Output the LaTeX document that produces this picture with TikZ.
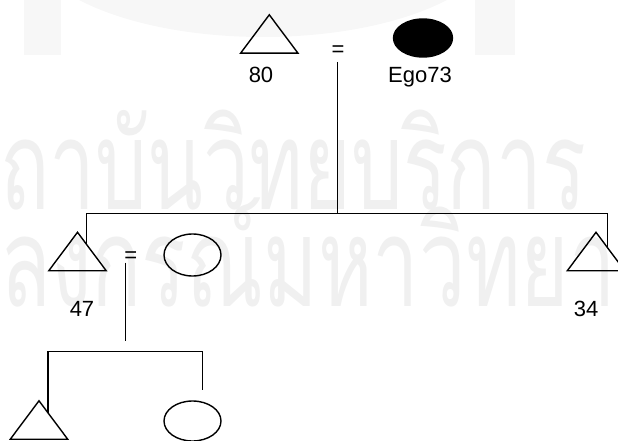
\documentclass[tikz,border=0pt]{standalone}
\usepackage{fontspec}
\setmainfont{Liberation Sans}
\newfontfamily\thaifont[Script=Thai]{Loma}
\usetikzlibrary{calc,shapes.geometric}
\colorlet{wm}{black!6!white}
\colorlet{wmfaint}{black!3!white}
\begin{document}
\begin{tikzpicture}[x=1pt,y=-1pt,
  lbl/.style={inner sep=0pt, font=\fontsize{22}{22}\selectfont},
  male/.style={inner sep=0pt, minimum width=57pt, minimum height=38pt},
  female/.style={draw, ellipse, inner sep=0pt, line width=1.4pt, minimum width=57pt, minimum height=42pt},
  ln/.style={line width=1.5pt},
  tri/.style={line width=1.4pt, line join=miter},
  wmtext/.style={anchor=base west, inner sep=0pt, text=wm}
]
\useasboundingbox (0,0) rectangle (618,441);
\begin{scope}
\clip (0,0) rectangle (618,441);
% faint watermark
\fill[wmfaint] (263,-60) ellipse (234pt and 97pt);
\fill[wmfaint] (24,0) rectangle (61,55);
\fill[wmfaint] (475,0) rectangle (515,55);
\node[wmtext] (wm1) at (0,209) {\resizebox{586pt}{\height}{\fontsize{124}{124}\selectfont\thaifont ถาบันวิทยบริการ}};
\node[wmtext] (wm2) at (0,306) {\resizebox{616pt}{\height}{\fontsize{124}{124}\selectfont\thaifont ลงกรณ์มหาวิทยา}};

% generation 1
\node[male] (p80) at (269.3,34) {};
\draw[tri] (p80.south west) -- (p80.north) -- (p80.south east) -- cycle;
\node[lbl, anchor=base] (t80) at (261,82.5) {80};
\node[lbl] (eq1) at (338,51) {=};
\node[female, fill=black, minimum width=59pt, minimum height=38pt] (ego) at (423,38) {};
\node[lbl, anchor=base] (tego) at (420,82.5) {Ego73};

% generation 2
\node[male] (p47) at (77.5,251.5) {};
\draw[tri] (p47.south west) -- (p47.north) -- (p47.south east) -- cycle;
\node[lbl, anchor=base] (t47) at (82,316) {47};
\node[lbl] (eq2) at (130.7,257) {=};
\node[female] (w47) at (192.5,255) {};
\node[male] (p34) at (596,251.5) {};
\draw[tri] (p34.south west) -- (p34.north) -- (p34.south east) -- cycle;
\node[lbl, anchor=base] (t34) at (586,316.5) {34};

% generation 3
\node[male] (c1) at (39,420) {};
\draw[tri] (c1.south west) -- (c1.north) -- (c1.south east) -- cycle;
\node[female, minimum height=40pt] (c2) at (192.5,421) {};

% connectors
\coordinate (d1) at (337.5,62);
\coordinate (bar1) at (0,213.3);
\coordinate (k47) at ($(p47.north)!0.32!(p47.south east)$);
\coordinate (k34) at ($(p34.north)!0.40!(p34.south east)$);
\draw[ln] (d1) -- (d1 |- bar1);
\draw[ln] (k47) -- (k47 |- bar1) -| (k34);

\coordinate (d2) at (125.3,262.7);
\coordinate (d2e) at (125.3,340.7);
\draw[ln] (d2) -- (d2e);
\coordinate (bar2) at (0,351.7);
\coordinate (kc1) at ($(c1.north)!0.32!(c1.south east)$);
\coordinate (kc2) at (202.3,390);
\draw[ln] (kc1) -- (kc1 |- bar2) -| (kc2);
\end{scope}
\end{tikzpicture}
\end{document}
